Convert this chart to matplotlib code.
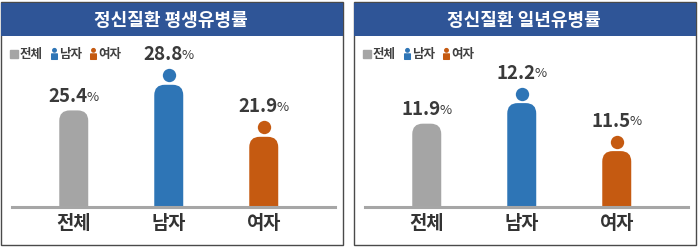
import matplotlib.pyplot as plt
from matplotlib.patches import FancyBboxPatch, Rectangle
from matplotlib.path import Path
from matplotlib.transforms import Affine2D, offset_copy
from matplotlib.lines import Line2D

plt.rcParams['font.family'] = ['Noto Sans CJK KR', 'DejaVu Sans']

categories = ['전체', '남자', '여자']
lifetime = [25.4, 28.8, 21.9]
one_year = [11.9, 12.2, 11.5]
titles = ['정신질환 평생유병률', '정신질환 일년유병률']
colors = ['#a5a5a5', '#2e75b6', '#c55a11']

W, H = 700, 248
fig = plt.figure(figsize=(7, 2.48), dpi=100)


def px(x0, y0, w, h):
    # pixel box (from top-left) -> figure fraction
    return [x0 / W, 1 - (y0 + h) / H, w / W, h / H]


# little person icon for the legend
head = Path.circle((0, 0.62), 0.26)
body = Affine2D().scale(0.84, 0.8).translate(-0.42, -0.72).transform_path(Path.unit_rectangle())
person = Path.make_compound_path(head, body)

panels = [(0, lifetime, (12.59, 34.74)), (353, one_year, (10.685, 13.12))]

for (ox, values, (ylo, yhi)), title in zip(panels, titles):
    # frame + title band
    x0, y0, w, h = px(ox + 1, 2, 342, 243)
    fig.patches.append(Rectangle((x0, y0), w, h, transform=fig.transFigure,
                                 facecolor='white', edgecolor='#4a4a4a', lw=1, zorder=-2))
    x0, y0, w, h = px(ox + 1, 3, 342, 33)
    fig.patches.append(Rectangle((x0, y0), w, h, transform=fig.transFigure,
                                 facecolor='#2f5597', edgecolor='none', zorder=-1))
    fig.text((ox + 171) / W, 1 - 20 / H, title, color='white', fontsize=13,
             fontweight='bold', ha='center', va='center')

    ax = fig.add_axes(px(ox + 12, 40, 323, 167))
    ax.set_xlim(-0.65, 2.75)
    ax.set_ylim(ylo, yhi)
    ax.patch.set_alpha(0)
    for s in ['top', 'left', 'right']:
        ax.spines[s].set_visible(False)
    ax.spines['bottom'].set_color('#a6a6a6')
    ax.spines['bottom'].set_linewidth(2.2)
    ax.set_yticks([])
    ax.set_xticks(range(3), categories, fontsize=13.5, fontweight='bold', color='#333333')
    ax.tick_params(axis='x', length=0, pad=5)

    bw = 0.305
    asp = ((yhi - ylo) / 167) / (3.4 / 323)
    for i, v in enumerate(values):
        bar = FancyBboxPatch((i - bw / 2, 0), bw, v,
                             boxstyle='round,pad=0,rounding_size=0.11',
                             mutation_aspect=asp, facecolor=colors[i], edgecolor='none')
        ax.add_patch(bar)
        top = 0
        if i > 0:
            ax.plot(i, v, 'o', ms=9.6, color=colors[i], mec='none',
                    transform=offset_copy(ax.transData, fig=fig, y=9.5, units='dots'))
            top = 16
        num = ax.annotate(f'{v}', xy=(i, v), xytext=(-4, (top + 14) * 0.72),
                          textcoords='offset points', ha='center', va='center',
                          fontsize=13.5, fontweight='bold', color='#3a3a3a')
        ax.annotate('%', xy=(1, 0.12), xycoords=num, xytext=(-1, 0),
                    textcoords='offset points', ha='left', va='bottom',
                    fontsize=9.5, color='#3a3a3a')

    handles = [Line2D([], [], marker='s', ls='', color=colors[0], ms=5.5),
               Line2D([], [], marker=person, ls='', color=colors[1], ms=8.5),
               Line2D([], [], marker=person, ls='', color=colors[2], ms=8.5)]
    leg = ax.legend(handles, categories, loc='upper left',
                    bbox_to_anchor=((ox + 10) / W, 1 - 48 / H), bbox_transform=fig.transFigure,
                    ncol=3, frameon=False, handlelength=0.7, handletextpad=0.1,
                    columnspacing=0.5, borderpad=0, borderaxespad=0,
                    prop={'weight': 'bold', 'size': 9})
    for t in leg.get_texts():
        t.set_color('#404040')

fig.savefig('out.png', dpi=100)
